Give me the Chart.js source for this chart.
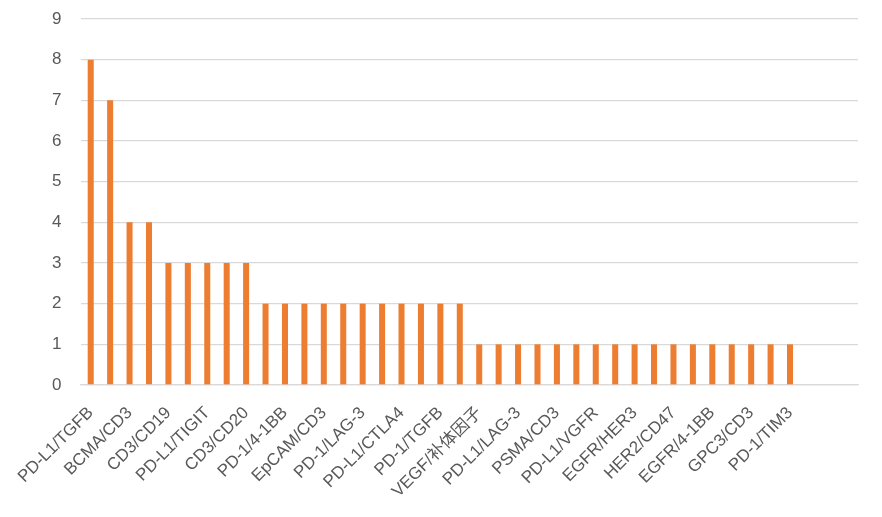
<!DOCTYPE html>
<html>
<head>
<meta charset="utf-8">
<script src="https://cdn.jsdelivr.net/npm/chart.js@4"></script>
<style>
  html, body { margin: 0; padding: 0; background: #fff; }
  #wrap { width: 882px; height: 517px; }
</style>
</head>
<body>
<div id="wrap"><canvas id="chart"></canvas></div>
<script>
// --- DATA ---
// every second category name is hidden in the original chart, so those are left blank
const categories = [
  'PD-L1/TGFB', '', 'BCMA/CD3', '', 'CD3/CD19', '', 'PD-L1/TIGIT', '', 'CD3/CD20', '',
  'PD-1/4-1BB', '', 'EpCAM/CD3', '', 'PD-1/LAG-3', '', 'PD-L1/CTLA4', '', 'PD-1/TGFB', '',
  'VEGF/补体因子', '', 'PD-L1/LAG-3', '', 'PSMA/CD3', '', 'PD-L1/VGFR', '', 'EGFR/HER3', '',
  'HER2/CD47', '', 'EGFR/4-1BB', '', 'GPC3/CD3', '', 'PD-1/TIM3', '', '', ''
];
const counts = [
  8, 7, 4, 4, 3, 3, 3, 3, 3, 2,
  2, 2, 2, 2, 2, 2, 2, 2, 2, 2,
  1, 1, 1, 1, 1, 1, 1, 1, 1, 1,
  1, 1, 1, 1, 1, 1, 1, null, null, null
];
const yTicks = [0, 1, 2, 3, 4, 5, 6, 7, 8, 9];

// --- CHART ---
const ctx = document.getElementById('chart').getContext('2d');
new Chart(ctx, {
  type: 'bar',
  data: {
    labels: categories,
    datasets: [{
      data: counts,
      backgroundColor: '#ED7D31',
      categoryPercentage: 1,
      barPercentage: 0.31
    }]
  },
  options: {
    responsive: true,
    maintainAspectRatio: false,
    animation: false,
    layout: { padding: { top: 19, right: 24, left: 52, bottom: 0 } },
    plugins: {
      legend: { display: false },
      tooltip: { enabled: false }
    },
    scales: {
      x: {
        grid: { display: false, drawTicks: false },
        border: { color: '#D9D9D9', width: 1.3 },
        ticks: {
          autoSkip: false,
          maxRotation: 45,
          minRotation: 45,
          padding: 18,
          color: '#595959',
          font: { family: 'Liberation Sans, "Noto Sans CJK SC"', size: 17 }
        },
        afterFit: (scale) => { scale.height = 132; }
      },
      y: {
        min: 0,
        max: 9,
        afterBuildTicks: (scale) => { scale.ticks = yTicks.map(v => ({ value: v })); },
        grid: { color: '#D9D9D9', lineWidth: 1.3, drawTicks: false },
        border: { display: false },
        ticks: {
          padding: 0,
          crossAlign: 'far',
          color: '#595959',
          font: { family: 'Liberation Sans', size: 17 }
        },
        afterFit: (scale) => { scale.width = 29; }
      }
    }
  }
});
</script>
</body>
</html>
